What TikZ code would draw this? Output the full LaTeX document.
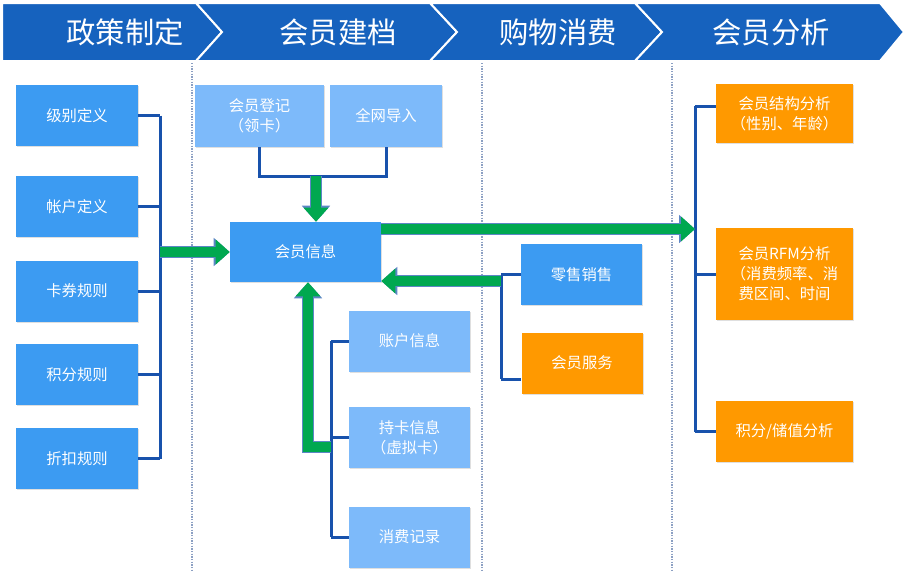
\documentclass[tikz,border=0pt]{standalone}
\usepackage{fontspec}
\newfontfamily\cjk{Noto Sans CJK SC}
\usetikzlibrary{arrows.meta,calc,shadows}

\definecolor{bandblue}{RGB}{22,98,190}
\definecolor{midblue}{RGB}{60,155,242}
\definecolor{paleblue}{RGB}{125,186,250}
\definecolor{analysisorange}{RGB}{255,153,0}
\definecolor{linkblue}{RGB}{24,82,172}
\definecolor{flowgreen}{RGB}{0,168,80}
\definecolor{sepgrey}{RGB}{140,160,195}

\begin{document}
\begin{tikzpicture}[
    x=0.75pt, y=-0.75pt,
    box/.style={rectangle, fill=midblue, text=white, align=center, inner sep=0pt,
        font=\cjk\fontsize{11.5}{15}\selectfont,
        drop shadow={shadow xshift=1pt, shadow yshift=-1pt, opacity=0.25}},
    policy/.style={box, minimum width=91.5pt, minimum height=45.75pt},
    record/.style={box, fill=paleblue, minimum width=90.75pt, minimum height=45.75pt},
    shop/.style={box, minimum width=90.75pt, minimum height=45.75pt},
    report/.style={box, fill=analysisorange, minimum width=102.75pt},
    stage/.style={text=white, font=\cjk\fontsize{22}{26}\selectfont},
    band/.style={fill=bandblue, draw=white, line width=1.5pt},
    link/.style={draw=linkblue, line width=2.25pt},
    flow/.style={draw=flowgreen, line width=8pt, -{Triangle[length=10.5pt,width=18pt]},
        preaction={draw=linkblue!70, line width=9.5pt, -{Triangle[length=12pt,width=20.5pt]}}},
    sep/.style={draw=sepgrey, densely dotted, line width=1pt}
]
    \useasboundingbox (0,0) rectangle (905,572);

    % header band
    \filldraw[band] (2,3) -- (196,3) -- (222,32) -- (196,61) -- (2,61) -- cycle;
    \filldraw[band] (196,3) -- (430,3) -- (457,32) -- (430,61) -- (196,61) -- (222,32) -- cycle;
    \filldraw[band] (430,3) -- (635,3) -- (662,32) -- (635,61) -- (430,61) -- (457,32) -- cycle;
    \filldraw[band] (635,3) -- (880,3) -- (904,32) -- (880,61) -- (635,61) -- (662,32) -- cycle;
    \node[stage] (policyhead) at (125,32) {政策制定};
    \node[stage] (recordhead) at (338,32) {会员建档};
    \node[stage] (shophead) at (558,32) {购物消费};
    \node[stage] (analysishead) at (771,32) {会员分析};

    % column separators
    \draw[sep] (192,63) -- (192,570);
    \draw[sep] (482,63) -- (482,570);
    \draw[sep] (672,63) -- (672,570);

    % policy column
    \node[policy] (level) at (77,115.5) {级别定义};
    \node[policy] (account) at (77,206.5) {帐户定义};
    \node[policy] (coupon) at (77,291) {卡券规则};
    \node[policy] (points) at (77,374.5) {积分规则};
    \node[policy] (discount) at (77,458.5) {折扣规则};
    \coordinate (policybus) at (160,0);

    % member records column
    \node[record, minimum width=96.75pt, minimum height=46.5pt] (register) at (259.5,116) {会员登记\\（领卡）};
    \node[record, minimum width=84pt, minimum height=46.5pt] (import) at (386,116) {全网导入};
    \node[box, minimum width=113.25pt, minimum height=45pt] (info) at (305.5,252) {会员信息};
    \node[record] (acctinfo) at (409.5,341) {账户信息};
    \node[record] (cardinfo) at (409.5,437.5) {持卡信息\\（虚拟卡）};
    \node[record] (history) at (409.5,537) {消费记录};
    \coordinate (join) at (316,176);
    \coordinate (infobus) at (331,0);
    \coordinate (tap) at (331,447);

    % shopping column
    \node[shop] (retail) at (581.5,274.5) {零售销售};
    \node[shop, fill=analysisorange] (service) at (582,363) {会员服务};
    \coordinate (shopbus) at (501,0);
    \coordinate (back) at (501,281);

    % analysis column
    \node[report, minimum height=44.25pt] (structure) at (784.5,113.5) {会员结构分析\\（性别、年龄）};
    \node[report, minimum height=69pt] (rfm) at (784.5,274) {会员RFM分析\\（消费频率、消\\费区间、时间};
    \node[report, minimum height=45.75pt] (stored) at (784.5,431.5) {积分/储值分析};
    \coordinate (analysisbus) at (695,0);

    % blue connectors
    \foreach \n in {level,account,coupon,points,discount}
        \draw[link] (\n.east) -- (\n.east -| policybus);
    \draw[link] (level.east -| policybus) -- (discount.east -| policybus);
    \draw[link] (register.south) |- (join) -| (import.south);
    \foreach \n in {acctinfo,cardinfo,history}
        \draw[link] (\n.west) -- (\n.west -| infobus);
    \draw[link] (acctinfo.west -| infobus) -- (history.west -| infobus);
    \draw[link] (retail.west) -- (retail.west -| shopbus);
    \draw[link] ($(service.west)+(0,16)$) -- ($(service.west -| shopbus)+(0,16)$);
    \draw[link] (retail.west -| shopbus) -- ($(service.west -| shopbus)+(0,16)$);
    \draw[link] ($(structure.west)+(0,-7.5)$) -- ($(structure.west -| analysisbus)+(0,-7.5)$);
    \draw[link] (rfm.west) -- (rfm.west -| analysisbus);
    \draw[link] (stored.west) -- (stored.west -| analysisbus);
    \draw[link] ($(structure.west -| analysisbus)+(0,-7.5)$) -- (stored.west -| analysisbus);

    % green flows
    \draw[flow] (info.west -| policybus) -- (info.west);
    \draw[flow] (join) -- (join |- info.north);
    \draw[flow] ($(info.east)+(0,-23)$) -- ($(info.east -| analysisbus)+(0,-23)$);
    \draw[flow] (back) -- (back -| info.east);
    \draw[flow] (tap) -| ($(info.south)+(2.5,0)$);
\end{tikzpicture}
\end{document}
